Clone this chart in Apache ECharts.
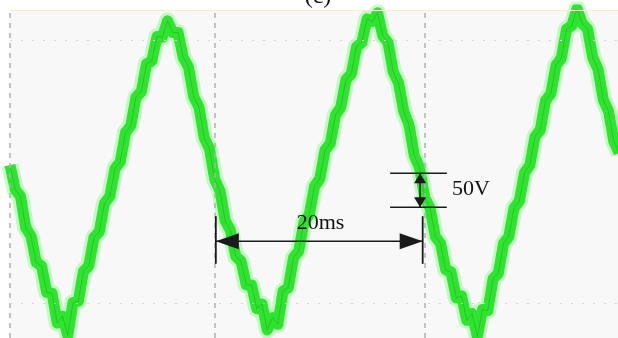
<!DOCTYPE html>
<html>
<head>
<meta charset="utf-8">
<script src="https://cdn.jsdelivr.net/npm/echarts@6/dist/echarts.min.js"></script>
<style>
html, body { margin: 0; padding: 0; background: #fff; }
#main { width: 618px; height: 338px; }
</style>
</head>
<body>
<div id="main"></div>
<script>
// scope trace, one sample every 0.5 ms starting at 0.5 ms (volts)
var startMs = 0.5;
var stepMs = 0.5;
var voltage = [
  10, -26, -36, -82, -94, -133, -138, -177, -178, -222,
  -212, -240, -192, -190, -146, -138, -96, -88, -46, -36,
  5, 15, 58, 68, 110, 118, 159, 163, 199, 198,
  222, 205, 205, 168, 154, 110, 95, 50, 34, -11,
  -28, -72, -86, -124, -131, -166, -166, -201, -194, -232,
  -214, -224, -175, -170, -126, -116, -73, -63, -21, -10,
  32, 42, 84, 95, 136, 144, 184, 190, 225, 221,
  234, 200, 190, 147, 131, 89, 69, 24, 6, -38,
  -53, -95, -105, -144, -147, -185, -182, -218, -208, -242,
  -202, -204, -157, -149, -105, -95, -53, -43, -1, 10,
  52, 62, 105, 115, 157, 167, 210, 215, 240, 218,
  210, 168, 151, 106, 89, 45, 28
];

var timeRange = [0.5, 58.4];
var voltRange = [-244, 238];
var vGridMs = [0.5, 20, 40];
var hGridV = [193, -193];

// 20ms marker
var periodEndsMs = [20.1, 39.8];
var periodArrowV = -102;
var periodBarV = [-65, -135];
var periodLabel = '20ms';
var periodLabelAt = [27.8, -75];

// 50V marker
var scaleLinesV = [-2, -52];
var scaleLinesMs = [36.7, 42.1];
var scaleArrowMs = 39.55;
var scaleLabel = '50V';
var scaleLabelAt = [42.6, -25];

var seriesData = voltage.map(function (v, i) {
  return [startMs + i * stepMs, v];
});

var chart = echarts.init(document.getElementById('main'));

var gridLines = [];
vGridMs.forEach(function (t) {
  gridLines.push({ xAxis: t, lineStyle: { color: '#b0b0b0', width: 1.5, type: [5, 5] } });
});
hGridV.forEach(function (v) {
  gridLines.push({ yAxis: v, lineStyle: { color: '#d6d6d6', width: 1, type: [2, 9] } });
});
gridLines.push({ yAxis: voltRange[1], lineStyle: { color: '#f1edd9', width: 1, type: 'solid' } });

var option = {
  animation: false,
  backgroundColor: '#ffffff',
  grid: {
    left: 10, right: 0, top: 10, bottom: 0,
    show: true, backgroundColor: '#f8f8f8', borderWidth: 0
  },
  xAxis: {
    type: 'value', min: timeRange[0], max: timeRange[1],
    axisLine: { show: false }, axisTick: { show: false },
    axisLabel: { show: false }, splitLine: { show: false }
  },
  yAxis: {
    type: 'value', min: voltRange[0], max: voltRange[1],
    axisLine: { show: false }, axisTick: { show: false },
    axisLabel: { show: false }, splitLine: { show: false }
  },
  series: [
    {
      type: 'line', data: [], z: 1, silent: true,
      markLine: { symbol: ['none', 'none'], silent: true, label: { show: false }, data: gridLines }
    },
    {
      type: 'line', data: seriesData, symbol: 'none', z: 2, silent: true,
      lineStyle: { color: 'rgba(140,242,140,0.45)', width: 17, join: 'round' }
    },
    {
      type: 'line', data: seriesData, symbol: 'none', z: 3, silent: true,
      lineStyle: { color: '#2fe42f', width: 11, join: 'round' }
    },
    {
      type: 'line', data: seriesData, symbol: 'none', z: 4, silent: true,
      lineStyle: { color: '#15a815', width: 0.8, opacity: 0.6 }
    }
  ]
};
chart.setOption(option);

// annotations placed through the axes
function px(t, v) { return chart.convertToPixel({ gridIndex: 0 }, [t, v]); }
var ink = '#1a1a1a';
var els = [];
function seg(p, q, w) {
  els.push({ type: 'line', z: 10, shape: { x1: p[0], y1: p[1], x2: q[0], y2: q[1] }, style: { stroke: ink, lineWidth: w } });
}
function tri(pts) {
  els.push({ type: 'polygon', z: 10, shape: { points: pts }, style: { fill: ink } });
}
function label(text, at) {
  var p = px(at[0], at[1]);
  els.push({
    type: 'text', z: 10, x: p[0], y: p[1],
    style: { text: text, fill: '#111', fontSize: 22, fontFamily: 'Liberation Serif', textAlign: 'left', textVerticalAlign: 'middle' }
  });
}

// 20ms
var a = px(periodEndsMs[0], periodArrowV);
var b = px(periodEndsMs[1], periodArrowV);
seg(a, b, 1.5);
periodEndsMs.forEach(function (t) {
  seg(px(t, periodBarV[0]), px(t, periodBarV[1]), 1.8);
});
tri([[a[0], a[1]], [a[0] + 23, a[1] - 8], [a[0] + 23, a[1] + 8]]);
tri([[b[0], b[1]], [b[0] - 23, b[1] - 8], [b[0] - 23, b[1] + 8]]);
label(periodLabel, periodLabelAt);

// 50V
scaleLinesV.forEach(function (v) {
  seg(px(scaleLinesMs[0], v), px(scaleLinesMs[1], v), 1.5);
});
var p = px(scaleArrowMs, scaleLinesV[0]);
var q = px(scaleArrowMs, scaleLinesV[1]);
seg(p, q, 1.5);
tri([[p[0], p[1]], [p[0] - 6, p[1] + 10], [p[0] + 6, p[1] + 10]]);
tri([[q[0], q[1]], [q[0] - 6, q[1] - 10], [q[0] + 6, q[1] - 10]]);
label(scaleLabel, scaleLabelAt);

// panel tag, mostly cut off at the top
els.push({
  type: 'text', z: 10, x: 318, y: 9,
  style: { text: '(c)', fill: '#111', fontSize: 24, fontFamily: 'Liberation Serif', textAlign: 'center', textVerticalAlign: 'bottom' }
});

chart.setOption({ graphic: { elements: els } });
</script>
</body>
</html>
